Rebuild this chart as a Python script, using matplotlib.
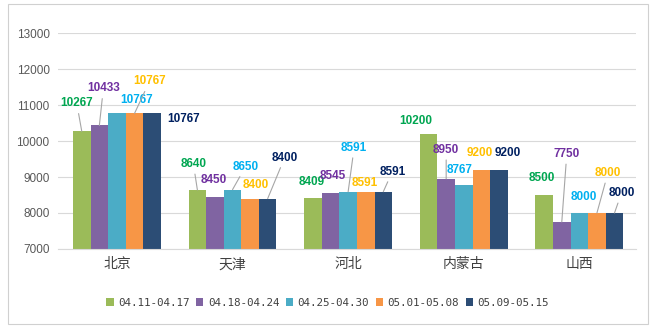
import numpy as np
from matplotlib import pyplot as plt
from matplotlib.patches import Rectangle

provinces = ['北京', '天津', '河北', '内蒙古', '山西']
periods = ['04.11-04.17', '04.18-04.24', '04.25-04.30', '05.01-05.08', '05.09-05.15']
values = [
    [10267, 8640, 8409, 10200, 8500],
    [10433, 8450, 8545, 8950, 7750],
    [10767, 8650, 8591, 8767, 8000],
    [10767, 8400, 8591, 9200, 8000],
    [10767, 8400, 8591, 9200, 8000],
]
y_ticks = [7000, 8000, 9000, 10000, 11000, 12000, 13000]

bar_colors = ['#9BBB59', '#8064A2', '#4BACC6', '#F79646', '#2C4D75']
label_colors = ['#00A651', '#7030A0', '#00B0F0', '#FFC000', '#002060']

# label offsets from bar top in pixels (dx, dy, leader line)
label_layout = [
    [(-5, 28, True), (-4, 26, True), (-1, 16, False), (-13, 13, False), (-2, 17, False)],
    [(4, 37, True), (-1, 17, False), (2, 17, False), (0, 29, True), (5, 68, True)],
    [(20, 13, False), (13, 23, True), (6, 44, True), (-4, 15, False), (4, 16, False)],
    [(15, 32, True), (6, 14, False), (-1, 9, False), (-2, 17, False), (11, 40, True)],
    [(31, -6, False), (17, 41, True), (9, 20, True), (9, 17, False), (7, 20, True)],
]

fig = plt.figure(figsize=(6.55, 3.28), dpi=100)
fig.patches.append(Rectangle((0.012, 0.012), 0.978, 0.976, transform=fig.transFigure,
                             fill=False, edgecolor='#d0d0d0', lw=0.8))
ax = fig.add_axes([0.0885, 0.241, 0.8825, 0.658])

x = np.arange(len(provinces))
w = 0.152
for j in range(len(periods)):
    xs = x + (j - 2) * w
    ax.bar(xs, values[j], width=w, color=bar_colors[j], label=periods[j], zorder=2)
    for i, v in enumerate(values[j]):
        dx, dy, line = label_layout[j][i]
        props = None
        if line:
            props = dict(arrowstyle='-', color='#a6a6a6', lw=0.8, shrinkA=1, shrinkB=0)
        ax.annotate(str(v), xy=(xs[i], v), xytext=(dx, dy), textcoords='offset pixels',
                    ha='center', va='center', color=label_colors[j], fontsize=8.5,
                    fontweight='bold', family='Liberation Sans', arrowprops=props, zorder=4)

ax.set_xlim(-0.51, 4.49)
ax.set_ylim(7000, 13000)
ax.set_yticks(y_ticks)
ax.set_yticklabels([str(t) for t in y_ticks], family='Liberation Sans', fontsize=8.5, color='#595959')
ax.set_xticks(x)
ax.set_xticklabels(provinces, family=['Noto Sans CJK SC', 'DejaVu Sans'], fontsize=10, color='#404040')
ax.tick_params(length=0, pad=6)
ax.yaxis.grid(True, color='#d9d9d9', lw=0.8, zorder=0)
for s in ['top', 'right', 'left']:
    ax.spines[s].set_visible(False)
ax.spines['bottom'].set_color('#d9d9d9')

fig.legend(loc='center', bbox_to_anchor=(0.5, 0.076), ncol=5, frameon=False,
           prop={'family': 'DejaVu Sans Mono', 'size': 7.8},
           handlelength=0.7, handleheight=0.7, handletextpad=0.4, columnspacing=0.6,
           labelcolor='#404040')

plt.savefig('out.png', dpi=100)
